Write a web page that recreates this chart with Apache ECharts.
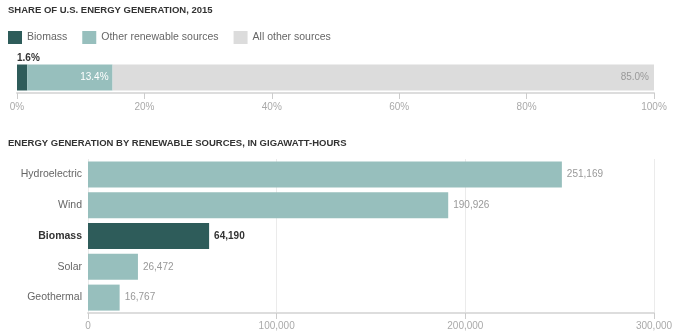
<!DOCTYPE html>
<html>
<head>
<meta charset="utf-8">
<script src="https://cdn.jsdelivr.net/npm/echarts@6/dist/echarts.min.js"></script>
<style>
  html, body { margin: 0; padding: 0; background: #fff; }
  #chart { width: 676px; height: 336px; }
</style>
</head>
<body>
<div id="chart"></div>
<script>
// Share of U.S. energy generation, 2015 (percent)
const shareNames = ['Biomass', 'Other renewable sources', 'All other sources'];
const shareValues = [1.6, 13.4, 85.0];
const shareTicks = [0, 20, 40, 60, 80, 100];

// Generation by renewable source, gigawatt-hours
const sources = ['Hydroelectric', 'Wind', 'Biomass', 'Solar', 'Geothermal'];
const sourceValues = [251169, 190926, 64190, 26472, 16767];
const genTicks = [0, 100000, 200000, 300000];

const DARK = '#2e5c5a';
const LIGHT = '#97bfbd';
const GREY = '#dcdcdc';
const FONT = '"Liberation Sans", Arial, sans-serif';

const fmtNum = v => v.toLocaleString('en-US');
const fmtPct = v => v.toFixed(1) + '%';

const shareColors = [DARK, LIGHT, GREY];
const shareLabels = [
  { show: true, position: [0, -6], align: 'left', verticalAlign: 'middle',
    color: '#333', fontWeight: 'bold', fontSize: 10, fontFamily: FONT },
  { show: true, position: 'insideRight', distance: 4,
    color: '#fff', fontSize: 10, fontFamily: FONT },
  { show: true, position: 'insideRight', distance: 5,
    color: '#999', fontSize: 10, fontFamily: FONT }
];

const axisCommon = {
  axisLine: { show: true, lineStyle: { color: '#dddddd', width: 2 } },
  axisTick: { show: true, length: 6, lineStyle: { color: '#cccccc', width: 1 } },
  axisLabel: { color: '#aaaaaa', fontSize: 10, fontFamily: FONT, margin: 8 }
};

const chart = echarts.init(document.getElementById('chart'), null, { renderer: 'canvas' });

chart.setOption({
  animation: false,
  title: [
    { text: 'SHARE OF U.S. ENERGY GENERATION, 2015', left: 8, top: 5, padding: 0,
      textStyle: { fontSize: 9.5, fontWeight: 'bold', color: '#333', fontFamily: FONT } },
    { text: 'ENERGY GENERATION BY RENEWABLE SOURCES, IN GIGAWATT-HOURS', left: 8, top: 138, padding: 0,
      textStyle: { fontSize: 9.5, fontWeight: 'bold', color: '#333', fontFamily: FONT } }
  ],
  legend: {
    left: 8, top: 31, padding: 0, itemWidth: 14, itemHeight: 13, itemGap: 15, icon: 'rect',
    data: shareNames,
    textStyle: { color: '#666', fontSize: 10.5, fontFamily: FONT },
    selectedMode: false
  },
  grid: [
    { left: 17, width: 637, top: 62, height: 31 },
    { left: 88, width: 566, top: 159, height: 154 }
  ],
  xAxis: [
    Object.assign({}, axisCommon, {
      gridIndex: 0, type: 'value', min: shareTicks[0], max: shareTicks[shareTicks.length - 1],
      interval: shareTicks[1] - shareTicks[0],
      splitLine: { show: false },
      axisLabel: Object.assign({}, axisCommon.axisLabel, { formatter: '{value}%', margin: 9 })
    }),
    Object.assign({}, axisCommon, {
      gridIndex: 1, type: 'value', min: genTicks[0], max: genTicks[genTicks.length - 1],
      interval: genTicks[1] - genTicks[0],
      splitLine: { show: true, lineStyle: { color: '#ebebeb', width: 1 } },
      axisLabel: Object.assign({}, axisCommon.axisLabel, { formatter: v => fmtNum(v) })
    })
  ],
  yAxis: [
    { gridIndex: 0, type: 'category', data: ['2015'], show: false },
    { gridIndex: 1, type: 'category', data: sources, inverse: true,
      axisLine: { show: false }, axisTick: { show: false },
      axisLabel: {
        margin: 6, fontSize: 10.5, color: '#666', fontFamily: FONT,
        formatter: v => v === 'Biomass' ? '{hi|' + v + '}' : v,
        rich: { hi: { fontSize: 10.5, fontWeight: 'bold', color: '#333', fontFamily: FONT } }
      }
    }
  ],
  series: [
    ...shareNames.map((name, i) => ({
      name, type: 'bar', stack: 'share', xAxisIndex: 0, yAxisIndex: 0,
      barWidth: 26, data: [shareValues[i]],
      itemStyle: { color: shareColors[i] },
      label: Object.assign({ formatter: p => fmtPct(p.value) }, shareLabels[i]),
      emphasis: { disabled: true }
    })),
    {
      name: 'Generation', type: 'bar', xAxisIndex: 1, yAxisIndex: 1, barWidth: 26,
      data: sources.map((s, i) => {
        const hi = s === 'Biomass';
        return {
          value: sourceValues[i],
          itemStyle: { color: hi ? DARK : LIGHT },
          label: hi ? { color: '#333', fontWeight: 'bold' } : {}
        };
      }),
      label: {
        show: true, position: 'right', distance: 5, color: '#999', fontSize: 10,
        fontFamily: FONT, formatter: p => fmtNum(p.value)
      },
      emphasis: { disabled: true }
    }
  ]
});
</script>
</body>
</html>
